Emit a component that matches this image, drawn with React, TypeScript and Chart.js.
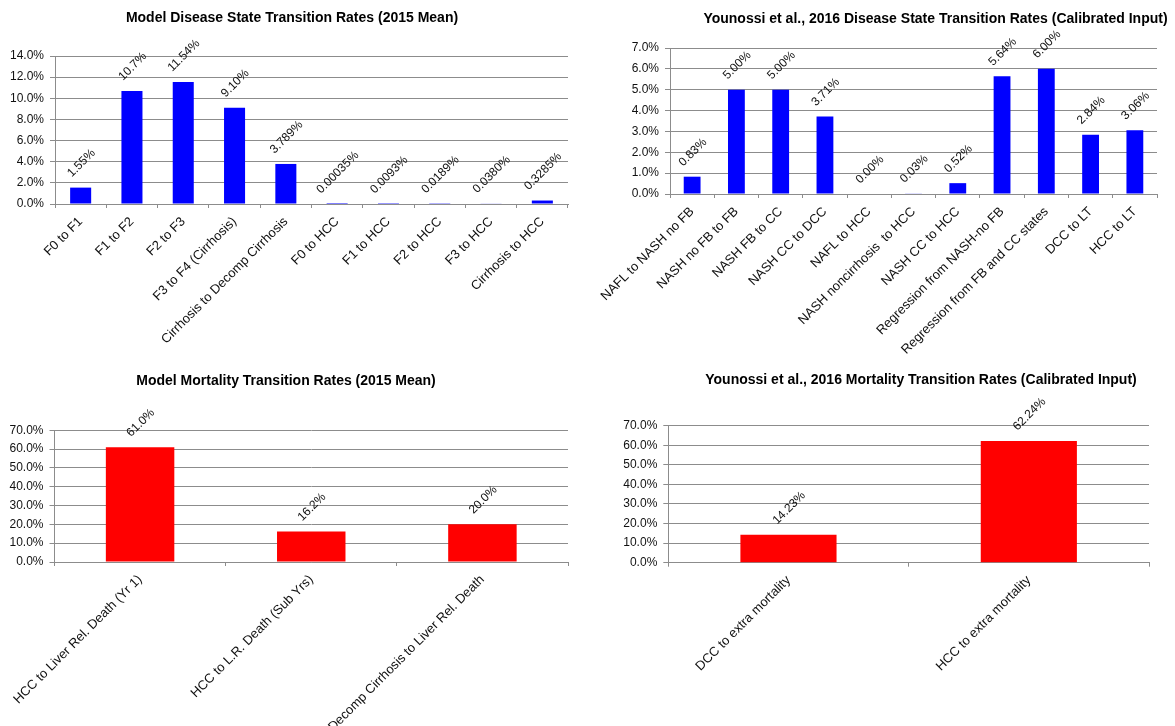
import React, { useEffect, useRef } from "react";
import { Chart, registerables } from "chart.js";

Chart.register(...registerables);

const FONT = "'Liberation Sans', Arial, Helvetica, sans-serif";
const TEXT = "#111111";
const GRID = "#8c8c8c";

// ---- Chart 1: Model Disease State Transition Rates ----
const diseaseTitle = "Model Disease State Transition Rates (2015 Mean)";
const diseaseCategories = [
  "F0 to F1",
  "F1 to F2",
  "F2 to F3",
  "F3 to F4 (Cirrhosis)",
  "Cirrhosis to Decomp Cirrhosis",
  "F0 to HCC",
  "F1 to HCC",
  "F2 to HCC",
  "F3 to HCC",
  "Cirrhosis to HCC",
];
const diseaseValues = [1.55, 10.7, 11.54, 9.1, 3.789, 0.00035, 0.0093, 0.0189, 0.038, 0.3285];
const diseaseValueLabels = ["1.55%", "10.7%", "11.54%", "9.10%", "3.789%", "0.00035%", "0.0093%", "0.0189%", "0.0380%", "0.3285%"];
const diseaseAxisMax = 14;
const diseaseAxisStep = 2;

// ---- Chart 2: Younossi Disease State Transition Rates ----
const younossiTitle = "Younossi et al., 2016 Disease State Transition Rates (Calibrated Input)";
const younossiCategories = [
  "NAFL to NASH no FB",
  "NASH no FB to FB",
  "NASH FB to CC",
  "NASH CC to DCC",
  "NAFL to HCC",
  "NASH noncirrhosis  to HCC",
  "NASH CC to HCC",
  "Regression from NASH-no FB",
  "Regression from FB and CC states",
  "DCC to LT",
  "HCC to LT",
];
const younossiValues = [0.83, 5.0, 5.0, 3.71, 0.0, 0.03, 0.52, 5.64, 6.0, 2.84, 3.06];
const younossiValueLabels = ["0.83%", "5.00%", "5.00%", "3.71%", "0.00%", "0.03%", "0.52%", "5.64%", "6.00%", "2.84%", "3.06%"];
const younossiAxisMax = 7;
const younossiAxisStep = 1;

// ---- Chart 3: Model Mortality Transition Rates ----
const mortalityTitle = "Model Mortality Transition Rates (2015 Mean)";
const mortalityCategories = [
  "HCC to Liver Rel. Death (Yr 1)",
  "HCC to L.R. Death (Sub Yrs)",
  "Decomp Cirrhosis to Liver Rel. Death",
];
const mortalityValues = [61.0, 16.2, 20.0];
const mortalityValueLabels = ["61.0%", "16.2%", "20.0%"];
const mortalityAxisMax = 70;
const mortalityAxisStep = 10;

// ---- Chart 4: Younossi Mortality Transition Rates ----
const younossiMortTitle = "Younossi et al., 2016 Mortality Transition Rates (Calibrated Input)";
const younossiMortCategories = ["DCC to extra mortality", "HCC to extra mortality"];
const younossiMortValues = [14.23, 62.24];
const younossiMortValueLabels = ["14.23%", "62.24%"];
const younossiMortAxisMax = 70;
const younossiMortAxisStep = 10;

type Spec = {
  title: string;
  categories: string[];
  values: number[];
  valueLabels: string[];
  color: string;
  max: number;
  step: number;
  left: number;
  top: number;
  width: number;
  height: number;
  axisWidth: number;
  xAxisHeight: number;
  padRight: number;
  titlePadTop: number;
  titlePadBottom: number;
  barPct: number;
};

const specs: Spec[] = [
  {
    title: diseaseTitle,
    categories: diseaseCategories,
    values: diseaseValues,
    valueLabels: diseaseValueLabels,
    color: "#0000ff",
    max: diseaseAxisMax,
    step: diseaseAxisStep,
    left: 0,
    top: 0,
    width: 584,
    height: 360,
    axisWidth: 55,
    xAxisHeight: 156,
    padRight: 16,
    titlePadTop: 9.6,
    titlePadBottom: 29.6,
    barPct: 0.41,
  },
  {
    title: younossiTitle,
    categories: younossiCategories,
    values: younossiValues,
    valueLabels: younossiValueLabels,
    color: "#0000ff",
    max: younossiAxisMax,
    step: younossiAxisStep,
    left: 595,
    top: 0,
    width: 681,
    height: 360,
    axisWidth: 75,
    xAxisHeight: 166,
    padRight: 119,
    titlePadTop: 10.3,
    titlePadBottom: 20.9,
    barPct: 0.38,
  },
  {
    title: mortalityTitle,
    categories: mortalityCategories,
    values: mortalityValues,
    valueLabels: mortalityValueLabels,
    color: "#ff0000",
    max: mortalityAxisMax,
    step: mortalityAxisStep,
    left: 0,
    top: 360,
    width: 572,
    height: 366,
    axisWidth: 54.5,
    xAxisHeight: 164,
    padRight: 4,
    titlePadTop: 12.6,
    titlePadBottom: 40.9,
    barPct: 0.4,
  },
  {
    title: younossiMortTitle,
    categories: younossiMortCategories,
    values: younossiMortValues,
    valueLabels: younossiMortValueLabels,
    color: "#ff0000",
    max: younossiMortAxisMax,
    step: younossiMortAxisStep,
    left: 600,
    top: 360,
    width: 642,
    height: 366,
    axisWidth: 68.3,
    xAxisHeight: 163.3,
    padRight: 93,
    titlePadTop: 12.1,
    titlePadBottom: 36.8,
    barPct: 0.4,
  },
];

function BarPanel({ spec }: { spec: Spec }) {
  const ref = useRef<HTMLCanvasElement | null>(null);

  useEffect(() => {
    if (!ref.current) return;
    const valueLabelPlugin = {
      id: "valueLabels",
      afterDatasetsDraw(chart: any) {
        const ctx = chart.ctx as CanvasRenderingContext2D;
        const meta = chart.getDatasetMeta(0);
        ctx.save();
        ctx.font = `12px ${FONT}`;
        ctx.fillStyle = TEXT;
        ctx.textAlign = "center";
        ctx.textBaseline = "alphabetic";
        meta.data.forEach((bar: any, i: number) => {
          const text = spec.valueLabels[i];
          const w = ctx.measureText(text).width;
          const half = (w + 8.6) / (2 * Math.SQRT2);
          const cy = bar.y - 10 - half;
          ctx.save();
          ctx.translate(bar.x, cy);
          ctx.rotate(-Math.PI / 4);
          ctx.fillText(text, 0, 4.3);
          ctx.restore();
        });
        ctx.restore();
      },
    };

    const chart = new Chart(ref.current, {
      type: "bar",
      data: {
        labels: spec.categories,
        datasets: [
          {
            data: spec.values,
            backgroundColor: spec.color,
            borderWidth: 0,
            barPercentage: spec.barPct,
            categoryPercentage: 1,
          },
        ],
      },
      options: {
        responsive: false,
        animation: false,
        devicePixelRatio: 1,
        layout: { padding: 0 },
        plugins: {
          legend: { display: false },
          tooltip: { enabled: false },
          title: {
            display: true,
            text: spec.title,
            color: "#000000",
            font: { family: FONT, size: 14, weight: "bold" },
            padding: { top: spec.titlePadTop, bottom: spec.titlePadBottom },
          },
        },
        scales: {
          x: {
            offset: true,
            grid: {
              display: true,
              drawOnChartArea: false,
              drawTicks: true,
              tickLength: 4,
              color: GRID,
              offset: true,
            },
            border: { display: true, color: GRID },
            ticks: {
              autoSkip: false,
              minRotation: 45,
              maxRotation: 45,
              padding: 6,
              color: TEXT,
              font: { family: FONT, size: 13 },
            },
            afterFit: (s: any) => {
              s.height = spec.xAxisHeight;
              s.paddingLeft = 0;
              s.paddingRight = spec.padRight;
            },
          },
          y: {
            min: 0,
            max: spec.max,
            ticks: {
              stepSize: spec.step,
              padding: 6,
              color: TEXT,
              font: { family: FONT, size: 12 },
              callback: (v: any) => Number(v).toFixed(1) + "%",
            },
            grid: { color: GRID, lineWidth: 1, drawTicks: true, tickLength: 5 },
            border: { display: true, color: GRID },
            afterFit: (s: any) => {
              s.width = spec.axisWidth;
            },
          },
        },
      },
      plugins: [valueLabelPlugin],
    } as any);

    return () => chart.destroy();
  }, [spec]);

  return (
    <canvas
      ref={ref}
      width={spec.width}
      height={spec.height}
      style={{ position: "absolute", left: spec.left, top: spec.top, width: spec.width, height: spec.height }}
    />
  );
}

export default function App() {
  return (
    <div
      style={{
        position: "fixed",
        left: 0,
        top: 0,
        width: 1175,
        height: 726,
        overflow: "hidden",
        background: "#ffffff",
      }}
    >
      {specs.map((s, i) => (
        <BarPanel key={i} spec={s} />
      ))}
    </div>
  );
}
